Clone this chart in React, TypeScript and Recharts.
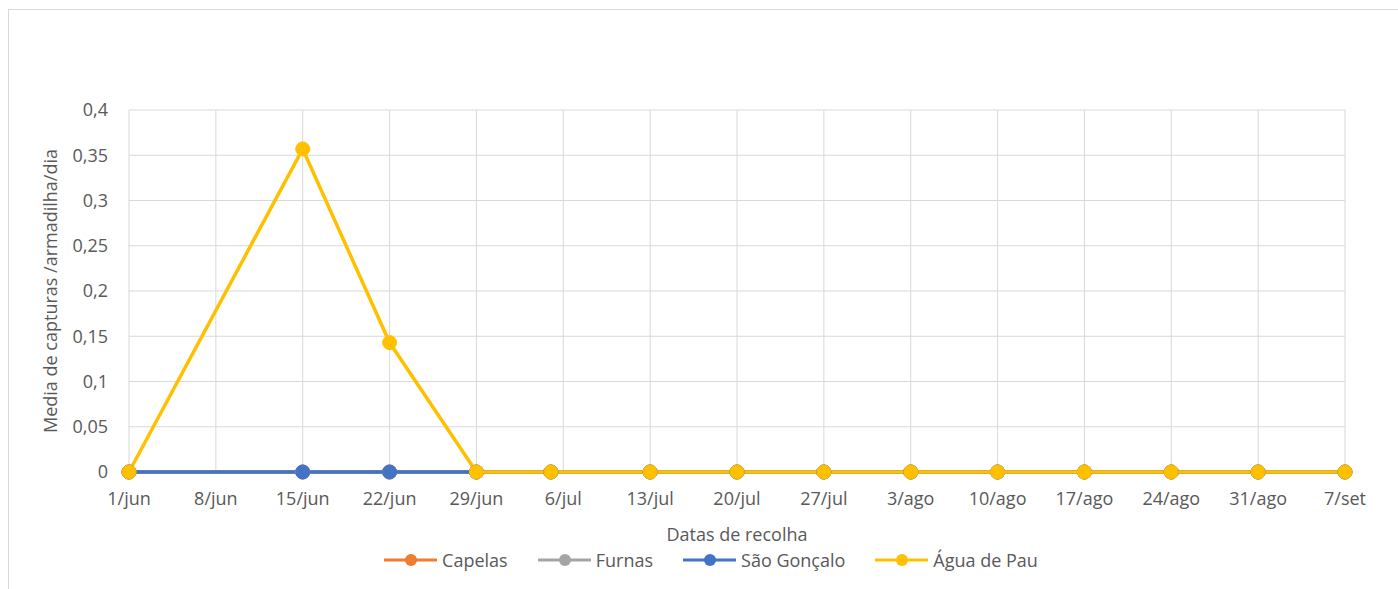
import { LineChart, Line, XAxis, YAxis, CartesianGrid, Legend } from 'recharts'

// datas de recolha (semanas) e médias por local
const sampleDates = ['1/jun', '15/jun', '22/jun', '29/jun', '5/jul', '13/jul', '20/jul', '27/jul', '3/ago', '10/ago', '17/ago', '24/ago', '31/ago', '7/set']
const capelas = [0, 0, 0, 0, 0, 0, 0, 0, 0, 0, 0, 0, 0, 0]
const furnas = [0, 0, 0, 0, 0, 0, 0, 0, 0, 0, 0, 0, 0, 0]
const saoGoncalo = [0, 0, 0, 0, 0, 0, 0, 0, 0, 0, 0, 0, 0, 0]
const aguaDePau = [0, 0.357, 0.143, 0, 0, 0, 0, 0, 0, 0, 0, 0, 0, 0]

const tickLabels = ['1/jun', '8/jun', '15/jun', '22/jun', '29/jun', '6/jul', '13/jul', '20/jul', '27/jul', '3/ago', '10/ago', '17/ago', '24/ago', '31/ago', '7/set']
const yTicks = [0, 0.05, 0.1, 0.15, 0.2, 0.25, 0.3, 0.35, 0.4]

const monthStart: Record<string, number> = { jun: 0, jul: 30, ago: 61, set: 92 }
const dayOf = (s: string) => {
  const [d, m] = s.split('/')
  return monthStart[m] + Number(d) - 1
}

const data = sampleDates.map((d, i) => ({
  day: dayOf(d),
  capelas: capelas[i],
  furnas: furnas[i],
  saoGoncalo: saoGoncalo[i],
  aguaDePau: aguaDePau[i],
}))

const xTicks = tickLabels.map(dayOf)
const labelByDay: Record<number, string> = {}
tickLabels.forEach((l) => (labelByDay[dayOf(l)] = l))

const series = [
  { key: 'capelas', name: 'Capelas', color: '#ED7D31' },
  { key: 'furnas', name: 'Furnas', color: '#A5A5A5' },
  { key: 'saoGoncalo', name: 'São Gonçalo', color: '#4472C4' },
  { key: 'aguaDePau', name: 'Água de Pau', color: '#FFC000' },
]

const textColor = '#595959'

function LegendContent() {
  return (
    <div style={{ display: 'flex', justifyContent: 'center', alignItems: 'center', height: 24, whiteSpace: 'nowrap' }}>
      {series.map((s, i) => (
        <div key={s.key} style={{ display: 'flex', alignItems: 'center', marginLeft: i ? 30 : 0, flexShrink: 0 }}>
          <svg width={53} height={14}>
            <line x1={0} y1={7} x2={53} y2={7} stroke={s.color} strokeWidth={3} />
            <circle cx={27} cy={7} r={6} fill={s.color} />
          </svg>
          <span style={{ marginLeft: 5, color: textColor, fontSize: 18 }}>{s.name}</span>
        </div>
      ))}
    </div>
  )
}

export default function App() {
  return (
    <div
      style={{
        position: 'absolute',
        top: 9,
        left: 8,
        width: 1390,
        height: 580,
        borderTop: '1px solid #d9d9d9',
        borderLeft: '1px solid #d9d9d9',
        boxSizing: 'border-box',
        background: '#fff',
        fontFamily: '"Open Sans", sans-serif',
      }}
    >
      <LineChart width={1389} height={579} data={data} margin={{ top: 100, right: 53, bottom: 77, left: 0 }}>
        <CartesianGrid stroke='#d9d9d9' strokeWidth={1} />
        <XAxis
          dataKey='day'
          type='number'
          domain={[0, 98]}
          ticks={xTicks}
          tickFormatter={(v: number) => labelByDay[v] ?? ''}
          interval={0}
          axisLine={false}
          tickLine={false}
          tickSize={0}
          tickMargin={20}
          height={40}
          tick={{ fill: textColor, fontSize: 18 }}
          label={{ value: 'Datas de recolha', position: 'insideBottom', offset: -29, fill: textColor, fontSize: 18 }}
        />
        <YAxis
          type='number'
          domain={[0, 0.4]}
          ticks={yTicks}
          tickFormatter={(v: number) => String(v).replace('.', ',')}
          axisLine={false}
          tickLine={false}
          tickSize={0}
          tickMargin={21}
          width={120}
          tick={{ fill: textColor, fontSize: 18 }}
          label={{
            value: 'Media de capturas /armadilha/dia',
            angle: -90,
            position: 'insideLeft',
            offset: 42,
            fill: textColor,
            fontSize: 18,
            style: { textAnchor: 'middle' },
          }}
        />
        <Legend
          verticalAlign='middle'
          align='center'
          wrapperStyle={{ top: 538, left: 302, width: 800, height: 24 }}
          content={<LegendContent />}
        />
        {series.map((s) => (
          <Line
            key={s.key}
            dataKey={s.key}
            name={s.name}
            stroke={s.color}
            strokeWidth={3.5}
            dot={{ r: 7, fill: s.color, stroke: s.color, strokeWidth: 1 }}
            activeDot={false}
            isAnimationActive={false}
          />
        ))}
      </LineChart>
    </div>
  )
}
